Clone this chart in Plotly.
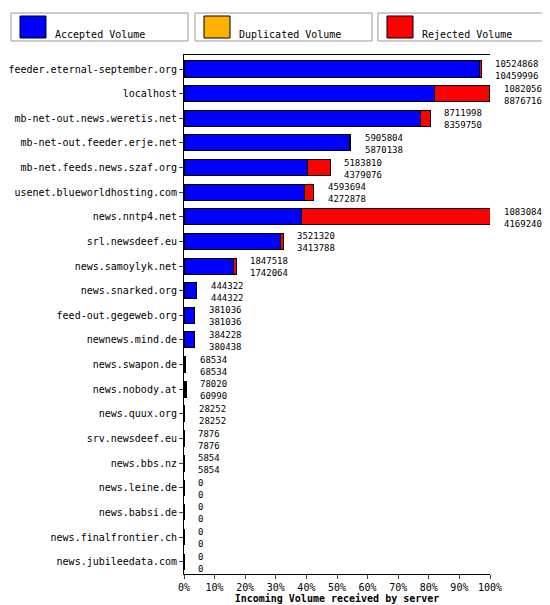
import plotly.graph_objects as go

servers = [
    "feeder.eternal-september.org", "localhost", "mb-net-out.news.weretis.net",
    "mb-net-out.feeder.erje.net", "mb-net.feeds.news.szaf.org",
    "usenet.blueworldhosting.com", "news.nntp4.net", "srl.newsdeef.eu",
    "news.samoylyk.net", "news.snarked.org", "feed-out.gegeweb.org",
    "newnews.mind.de", "news.swapon.de", "news.nobody.at", "news.quux.org",
    "srv.newsdeef.eu", "news.bbs.nz", "news.leine.de", "news.babsi.de",
    "news.finalfrontier.ch", "news.jubileedata.com",
]
total = [10524868, 10820568, 8711998, 5905804, 5183810, 4593694, 10830844,
         3521320, 1847518, 444322, 381036, 384228, 68534, 78020, 28252,
         7876, 5854, 0, 0, 0, 0]
accepted = [10459996, 8876716, 8359750, 5870138, 4379076, 4272878, 4169240,
            3413788, 1742064, 444322, 381036, 380438, 68534, 60990, 28252,
            7876, 5854, 0, 0, 0, 0]

FONT = "DejaVu Sans Mono, Liberation Mono, monospace"
mx = max(total)
acc_pct = [a / mx * 100 for a in accepted]
rej_pct = [(t - a) / mx * 100 for t, a in zip(total, accepted)]
tot_pct = [t / mx * 100 for t in total]

fig = go.Figure()
fig.add_trace(go.Bar(y=servers, x=acc_pct, orientation="h", width=0.65,
                     marker=dict(color="#0000ff", line=dict(color="black", width=1)),
                     name="Accepted Volume", hoverinfo="skip"))
fig.add_trace(go.Bar(y=servers, x=rej_pct, orientation="h", width=0.65,
                     marker=dict(color="#ff0000", line=dict(color="black", width=1)),
                     name="Rejected Volume", hoverinfo="skip"))

for s, p, t, a in zip(servers, tot_pct, total, accepted):
    fig.add_annotation(x=p, y=s, text=f"{t}<br>{a}", showarrow=False,
                       xanchor="left", xshift=12, yshift=-1, align="left",
                       font=dict(family=FONT, size=9, color="black"))

# legend boxes, positioned in picture pixels converted to paper coords
PL, PW, PT, PH = 176, 306, 47, 519
def px(x):
    return (x - PL) / PW
def py(y):
    return (605 - 39 - y) / PH

legend = [("Accepted Volume", "#0000ff", 3), ("Duplicated Volume", "#ffb000", 187),
          ("Rejected Volume", "#ff0000", 370)]
for name, col, x0 in legend:
    fig.add_shape(type="rect", xref="paper", yref="paper", x0=px(x0), x1=px(x0 + 177),
                  y0=py(33), y1=py(5), line=dict(color="#999", width=1),
                  fillcolor="white")
    fig.add_shape(type="rect", xref="paper", yref="paper", x0=px(x0 + 9),
                  x1=px(x0 + 35), y0=py(30), y1=py(8),
                  line=dict(color="black", width=1), fillcolor=col)
    fig.add_annotation(xref="paper", yref="paper", x=px(x0 + 42), y=py(19),
                       text=name, showarrow=False, xanchor="left",
                       font=dict(family=FONT, size=10, color="black"))

fig.update_layout(
    width=550, height=605, barmode="stack", showlegend=False,
    paper_bgcolor="white", plot_bgcolor="white",
    margin=dict(l=176, r=68, t=47, b=39),
    font=dict(family=FONT, size=10, color="black"),
    xaxis=dict(range=[0, 100], tickvals=list(range(0, 101, 10)),
               ticktext=[f"{v}%" for v in range(0, 101, 10)],
               showgrid=False, showline=True, linecolor="black", mirror=True,
               ticks="outside", ticklen=4, zeroline=False, automargin=False,
               tickfont=dict(family=FONT, size=10),
               title=dict(text="<b>Incoming Volume received by server</b>",
                          standoff=0, font=dict(family=FONT, size=10))),
    yaxis=dict(autorange="reversed", showgrid=False, showline=True,
               linecolor="black", ticks="outside", ticklen=4, automargin=False,
               tickfont=dict(family=FONT, size=10)),
)

fig.write_html("out.html")
